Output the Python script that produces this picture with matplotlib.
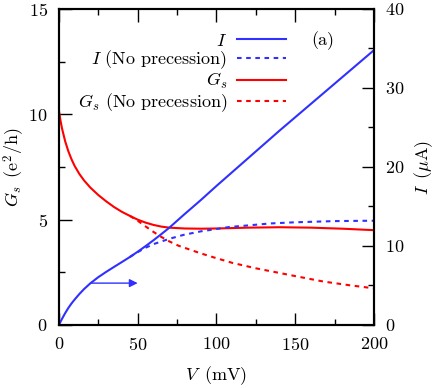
import matplotlib
matplotlib.use("Agg")
import matplotlib.pyplot as plt
from matplotlib.ticker import MultipleLocator

plt.rcParams['font.family'] = 'serif'
plt.rcParams['font.serif'] = ['cmr10', 'DejaVu Serif']
plt.rcParams['mathtext.fontset'] = 'cm'
plt.rcParams['axes.formatter.use_mathtext'] = True
plt.rcParams['font.size'] = 13

## data
V_I = [0, 2, 4, 6, 8, 10, 13, 16, 20, 25, 30, 35, 40, 45, 50, 55, 60, 65, 70, 79, 90,
       100, 120, 140, 160, 180, 200]
I_prec = [0, 0.78, 1.5, 2.15, 2.72, 3.22, 3.92, 4.55, 5.28, 6.05, 6.72, 7.35, 7.97, 8.6,
          9.27, 9.98, 10.72, 11.5, 12.3, 13.9, 15.8, 17.6, 21.1, 24.6, 28.0, 31.4, 34.8]
V_I0 = [45, 50, 55, 61, 70, 79, 90, 100, 108, 120, 134, 150, 175, 200]
I_noprec = [8.6, 9.22, 9.78, 10.3, 10.9, 11.4, 11.85, 12.15, 12.4, 12.6, 12.85, 13.0, 13.15, 13.2]

V_G = [0, 1, 2, 4, 6, 8, 10, 13, 16, 20, 25, 30, 35, 40, 45, 50, 55, 60, 65, 70, 80, 90,
       100, 120, 140, 160, 180, 200]
G_prec = [10.2, 9.72, 9.33, 8.72, 8.25, 7.87, 7.55, 7.17, 6.86, 6.52, 6.17, 5.87, 5.6,
          5.37, 5.18, 5.0, 4.86, 4.75, 4.67, 4.62, 4.58, 4.57, 4.58, 4.62, 4.64, 4.62,
          4.57, 4.5]
V_G0 = [45, 50, 55, 60, 65, 70, 76, 83, 90, 100, 110, 125, 140, 150, 168, 185, 200]
G_noprec = [5.18, 4.95, 4.68, 4.42, 4.18, 3.97, 3.76, 3.58, 3.4, 3.17, 2.95, 2.69, 2.47,
            2.32, 2.06, 1.88, 1.74]

blue = '#3030ff'
red = '#ff0000'

fig = plt.figure(figsize=(4.36, 3.88), dpi=100)
ax = fig.add_axes([0.135, 0.1624, 0.723, 0.8145])
ax2 = ax.twinx()

l1, = ax2.plot(V_I, I_prec, color=blue, lw=1.5)
l2, = ax2.plot(V_I0, I_noprec, color=blue, lw=1.5, ls=(0, (2.2, 2.2)))
l3, = ax.plot(V_G, G_prec, color=red, lw=1.5)
l4, = ax.plot(V_G0, G_noprec, color=red, lw=1.5, ls=(0, (2.2, 2.2)))

ax2.annotate('', xy=(50, 5.3), xytext=(20, 5.3),
             arrowprops=dict(arrowstyle='-|>', color=blue, lw=1.0,
                             mutation_scale=12, shrinkA=0, shrinkB=0))

ax.set_xlim(0, 200)
ax.set_ylim(0, 15)
ax2.set_ylim(0, 40)

ax.xaxis.set_major_locator(MultipleLocator(50))
ax.xaxis.set_minor_locator(MultipleLocator(25))
ax.yaxis.set_major_locator(MultipleLocator(5))
ax.yaxis.set_minor_locator(MultipleLocator(2.5))
ax2.yaxis.set_major_locator(MultipleLocator(10))
ax2.yaxis.set_minor_locator(MultipleLocator(5))

ax.tick_params(which='both', direction='in', top=True, right=False, width=1.0)
ax.tick_params(which='major', length=9, pad=8)
ax.tick_params(which='minor', length=4.5)
ax2.tick_params(which='both', direction='in', width=1.0)
ax2.tick_params(which='major', length=9, pad=8)
ax2.tick_params(which='minor', length=4.5)
for a in (ax, ax2):
    for s in a.spines.values():
        s.set_linewidth(1.5)

ax.set_xlabel(r'$V\,$ (mV)', labelpad=8)
ax.set_ylabel(r'$G_s\,$ (e$^2$/h)')
ax2.set_ylabel(r'$I\,$ ($\mu$A)', rotation=90)
ax.yaxis.set_label_coords(-0.1, 0.5)
ax2.yaxis.set_label_coords(1.122, 0.5)

ax.text(167.6, 13.5, '(a)', ha='center', va='center')

leg = ax.legend([l1, l2, l3, l4],
                [r'$I$', r'$I$ (No precession)', r'$G_s$', r'$G_s$ (No precession)'],
                loc='upper left', bbox_to_anchor=(0.02, 0.965), frameon=False,
                markerfirst=False, handlelength=2.7, handletextpad=0.55,
                labelspacing=0.0, borderpad=0.2)
for t in leg.get_texts():
    t.set_ha('right')
leg._legend_box.align = 'right'

fig.savefig('out.png', dpi=100)
